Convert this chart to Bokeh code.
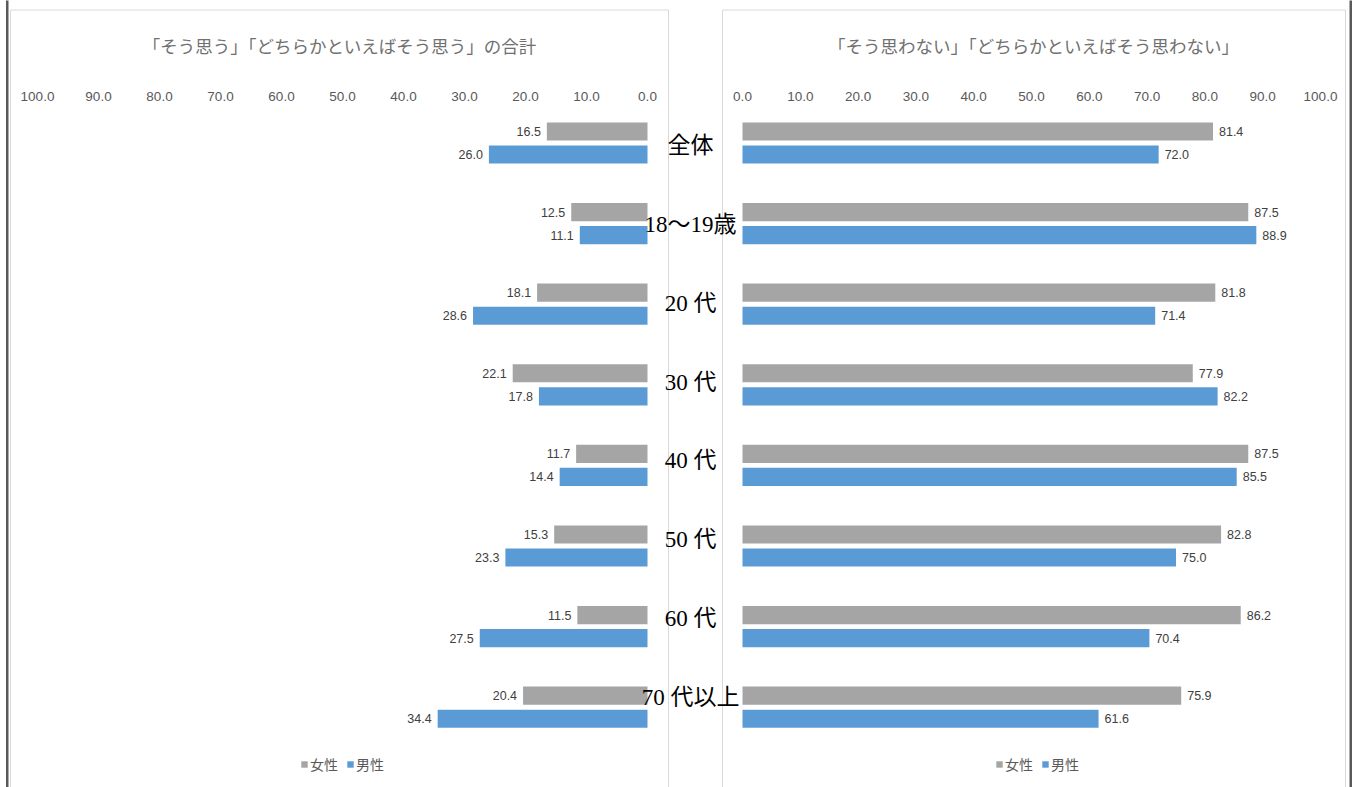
from bokeh.plotting import figure
from bokeh.models import Range1d, ColumnDataSource, Legend, LegendItem
from bokeh.core.properties import value
from bokeh.embed import file_html
from bokeh.resources import INLINE

# ---------------- data ----------------
categories = ["全体", "18～19歳", "20 代", "30 代", "40 代", "50 代", "60 代", "70 代以上"]
agree_female = [16.5, 12.5, 18.1, 22.1, 11.7, 15.3, 11.5, 20.4]
agree_male = [26.0, 11.1, 28.6, 17.8, 14.4, 23.3, 27.5, 34.4]
disagree_female = [81.4, 87.5, 81.8, 77.9, 87.5, 82.8, 86.2, 75.9]
disagree_male = [72.0, 88.9, 71.4, 82.2, 85.5, 75.0, 70.4, 61.6]
ticks = [0, 10, 20, 30, 40, 50, 60, 70, 80, 90, 100]
tick_labels = ["0.0", "10.0", "20.0", "30.0", "40.0", "50.0", "60.0", "70.0", "80.0", "90.0", "100.0"]
titles = ["「そう思う」「どちらかといえばそう思う」の合計", "「そう思わない」「どちらかといえばそう思わない」"]
series_names = ["女性", "男性"]

# ---------------- styles ----------------
W, H = 1353, 787
GRAY = "#A5A5A5"
BLUE = "#5B9BD5"
TXT = "#595959"
NUM_FONT = value("Liberation Sans Narrow, Liberation Sans, sans-serif")
JP_FONT = value("Noto Sans CJK JP")
CAT_FONT = value("Liberation Serif, Noto Sans CJK JP")

p = figure(width=W, height=H, output_backend="svg", toolbar_location=None,
           x_range=Range1d(0, W), y_range=Range1d(H, 0),
           x_axis_type=None, y_axis_type=None, min_border=0,
           outline_line_color=None, background_fill_color="white",
           border_fill_color="white")

# scales for each panel (screen px -> value)
L0, LS = 647.0, 6.1      # left panel: zero position and px per unit (reversed)
R0, RS = 742.0, 5.78     # right panel
Y0, YS = 142.5, 80.6     # group centre of first category, pitch
C0, CS = 145.0, 78.86    # category label line
p.extra_x_ranges = {
    "L": Range1d(start=L0 / LS, end=(L0 - W) / LS),
    "R": Range1d(start=-R0 / RS, end=(W - R0) / RS),
}
p.extra_y_ranges = {
    "cat": Range1d(start=(H - Y0) / YS, end=-Y0 / YS),
    "lab": Range1d(start=(H - C0) / CS, end=-C0 / CS),
}

# panel frames and outer dark lines
p.quad(left=[10, 722], right=[668, 1345], top=[9.5, 9.5], bottom=[H + 5, H + 5],
       fill_color=None, line_color="#D9D9D9", line_width=1)
p.quad(left=[5.5, 1349], right=[8, 1351.5], top=[-2, -2], bottom=[H + 2, H + 2],
       fill_color="#595959", line_color=None)

idx = list(range(len(categories)))
off = 0.143
bh = 0.225
yf = [i - off for i in idx]
ym = [i + off for i in idx]

src = ColumnDataSource(dict(
    cat=categories, i=idx, yf=yf, ym=ym,
    af=agree_female, am=agree_male, df=disagree_female, dm=disagree_male,
    afl=[f"{v:.1f}" for v in agree_female], aml=[f"{v:.1f}" for v in agree_male],
    dfl=[f"{v:.1f}" for v in disagree_female], dml=[f"{v:.1f}" for v in disagree_male],
))

lf = p.hbar(y="yf", left=0, right="af", height=bh, source=src, fill_color=GRAY,
            line_color=None, x_range_name="L", y_range_name="cat")
lm = p.hbar(y="ym", left=0, right="am", height=bh, source=src, fill_color=BLUE,
            line_color=None, x_range_name="L", y_range_name="cat")
rf = p.hbar(y="yf", left=0, right="df", height=bh, source=src, fill_color=GRAY,
            line_color=None, x_range_name="R", y_range_name="cat")
rm = p.hbar(y="ym", left=0, right="dm", height=bh, source=src, fill_color=BLUE,
            line_color=None, x_range_name="R", y_range_name="cat")

# data labels
for col, ycol, rng, align, xo in [("af", "yf", "L", "right", -6), ("am", "ym", "L", "right", -6),
                                  ("df", "yf", "R", "left", 6), ("dm", "ym", "R", "left", 6)]:
    p.text(x=col, y=ycol, text=col + "l", source=src, x_range_name=rng, y_range_name="cat",
           text_align=align, text_baseline="middle", x_offset=xo,
           text_font=NUM_FONT, text_font_size="12.5px", text_color="#404040")

# tick labels
tsrc = ColumnDataSource(dict(t=ticks, lab=tick_labels, y=[96] * len(ticks)))
p.text(x="t", y="y", text="lab", source=tsrc, x_range_name="L", text_align="center",
       text_baseline="middle", text_font=NUM_FONT, text_font_size="13.5px", text_color=TXT)
p.text(x="t", y="y", text="lab", source=tsrc, x_range_name="R", text_align="center",
       text_baseline="middle", text_font=NUM_FONT, text_font_size="13.5px", text_color=TXT)

# titles
p.text(x=[339, 1033], y=[45, 45], text=titles, text_align="center", text_baseline="middle",
       text_font=JP_FONT, text_font_size="17.5px", text_color="#707070")

# category labels
p.text(x=690, y="i", text="cat", source=src, y_range_name="lab",
       text_align="center", text_baseline="middle", text_font=CAT_FONT,
       text_font_size="23px", text_color="#000000")

# legends
for rends, x in [((lf, lm), 300), ((rf, rm), 995)]:
    leg = Legend(items=[LegendItem(label=series_names[0], renderers=[rends[0]]),
                        LegendItem(label=series_names[1], renderers=[rends[1]])],
                 orientation="horizontal", location=(x, 13),
                 border_line_color=None, background_fill_alpha=0,
                 glyph_width=8, glyph_height=8, label_standoff=2, spacing=8,
                 padding=0, margin=0, label_text_font="Noto Sans CJK JP",
                 label_text_font_size="14px", label_text_color=TXT)
    p.add_layout(leg)

open("out.html", "w").write(file_html(p, INLINE))
